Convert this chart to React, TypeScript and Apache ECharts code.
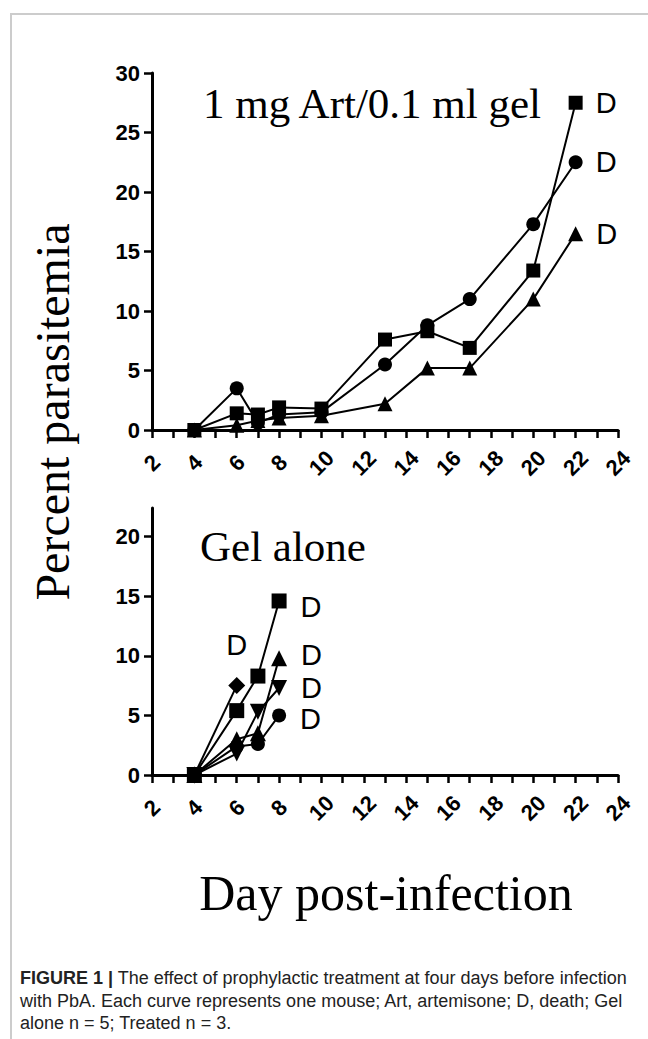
import React, { useEffect, useRef } from "react";
import * as echarts from "echarts";

// Treated: 1 mg Art/0.1 ml gel  [day, percent parasitemia]
const treatedSquare = [[4, 0], [6, 1.4], [7, 1.3], [8, 1.9], [10, 1.8], [13, 7.6], [15, 8.3], [17, 6.9], [20, 13.4], [22, 27.5]];
const treatedCircle = [[4, 0], [6, 3.5], [7, 0.6], [8, 1.3], [10, 1.5], [13, 5.5], [15, 8.8], [17, 11.0], [20, 17.3], [22, 22.5]];
const treatedTriangle = [[4, 0], [6, 0.4], [7, 0.8], [8, 1.0], [10, 1.2], [13, 2.2], [15, 5.2], [17, 5.2], [20, 11.0], [22, 16.5]];

// Gel alone
const gelSquare = [[4, 0], [6, 5.4], [7, 8.3], [8, 14.6]];
const gelDiamond = [[4, 0], [6, 7.5]];
const gelTriangle = [[4, 0], [6, 3.0], [7, 3.5], [8, 9.8]];
const gelInvTriangle = [[4, 0], [6, 1.8], [7, 5.3], [8, 7.3]];
const gelCircle = [[4, 0], [6, 2.4], [7, 2.6], [8, 5.0]];

const yTicksBottom = [0, 5, 10, 15, 20];

const SANS = "Liberation Sans, Arial, sans-serif";
const SERIF = "Liberation Serif, Times New Roman, serif";

function withDeath(data: number[][], position: string, distance: number, offset: number[] = [0, 0]) {
  return data.map((d, i) =>
    i === data.length - 1
      ? {
          value: d,
          label: {
            show: true,
            formatter: "D",
            position,
            distance,
            offset,
            color: "#000",
            fontFamily: SANS,
            fontSize: 29,
          },
        }
      : { value: d }
  );
}

function lineSeries(data: any[], symbol: string, size: number, axis: number, rotate = 0) {
  return {
    type: "line",
    xAxisIndex: axis,
    yAxisIndex: axis,
    data,
    symbol,
    symbolSize: size,
    symbolRotate: rotate,
    clip: false,
    lineStyle: { color: "#000", width: 2 },
    itemStyle: { color: "#000" },
    emphasis: { disabled: true },
    z: 3,
  };
}

function xAxisCfg(grid: number) {
  return {
    type: "value",
    gridIndex: grid,
    min: 2,
    max: 24,
    interval: 2,
    axisLine: { show: true, onZero: false, lineStyle: { color: "#000", width: 3 } },
    axisTick: { show: true, length: 8, lineStyle: { color: "#000", width: 2.5 } },
    minorTick: { show: true, splitNumber: 2, length: 8, lineStyle: { color: "#000", width: 2.5 } },
    splitLine: { show: false },
    minorSplitLine: { show: false },
    axisLabel: {
      rotate: 45,
      margin: 33,
      align: "center",
      verticalAlign: "middle",
      color: "#000",
      fontFamily: SANS,
      fontWeight: "bold",
      fontSize: 22,
    },
  };
}

function yAxisCfg(grid: number, max: number, custom?: number[]) {
  const cfg: any = {
    type: "value",
    gridIndex: grid,
    min: 0,
    max,
    interval: 5,
    axisLine: { show: true, lineStyle: { color: "#000", width: 3 } },
    axisTick: { show: true, length: 8, lineStyle: { color: "#000", width: 2.5 } },
    splitLine: { show: false },
    axisLabel: {
      margin: 12,
      color: "#000",
      fontFamily: SANS,
      fontWeight: "bold",
      fontSize: 22,
    },
  };
  if (custom) {
    cfg.axisTick.customValues = custom;
    cfg.axisLabel.customValues = custom;
  }
  return cfg;
}

export default function App() {
  const ref = useRef<HTMLDivElement>(null);
  useEffect(() => {
    if (!ref.current) return;
    const chart = echarts.init(ref.current, null, { renderer: "svg" });
    chart.setOption({
      animation: false,
      backgroundColor: "#fff",
      grid: [
        { left: 152, top: 73, width: 466, height: 357 },
        { left: 152, top: 508, width: 466, height: 267 },
      ],
      xAxis: [xAxisCfg(0), xAxisCfg(1)],
      yAxis: [yAxisCfg(0, 30), yAxisCfg(1, 22.4, yTicksBottom)],
      series: [
        lineSeries(withDeath(treatedSquare, "right", 13), "rect", 14, 0),
        lineSeries(withDeath(treatedCircle, "right", 13), "circle", 14, 0),
        lineSeries(withDeath(treatedTriangle, "right", 13), "triangle", 15, 0),
        lineSeries(withDeath(gelSquare, "right", 14, [0, 6]), "rect", 15, 1),
        lineSeries(withDeath(gelDiamond, "top", 18), "diamond", 17, 1),
        lineSeries(withDeath(gelTriangle, "right", 14, [0, -3]), "triangle", 16, 1),
        lineSeries(withDeath(gelInvTriangle, "right", 14, [0, 0]), "triangle", 16, 1, 180),
        lineSeries(withDeath(gelCircle, "right", 14, [0, 4]), "circle", 14, 1),
      ],
      graphic: [
        {
          type: "polyline",
          shape: { points: [[11, 1039], [11, 14], [648, 14]] },
          style: { stroke: "#cccccc", lineWidth: 2, fill: null },
        },
        {
          type: "text",
          x: 203,
          y: 103,
          style: { text: "1 mg Art/0.1 ml gel", fontFamily: SERIF, fontSize: 43, fill: "#000", align: "left", verticalAlign: "middle" },
        },
        {
          type: "text",
          x: 200,
          y: 546,
          style: { text: "Gel alone", fontFamily: SERIF, fontSize: 43, fill: "#000", align: "left", verticalAlign: "middle" },
        },
        {
          type: "text",
          x: 52,
          y: 412,
          rotation: Math.PI / 2,
          style: { text: "Percent parasitemia", fontFamily: SERIF, fontSize: 48, fill: "#000", align: "center", verticalAlign: "middle" },
        },
        {
          type: "text",
          x: 386,
          y: 893,
          style: { text: "Day post-infection", fontFamily: SERIF, fontSize: 50, fill: "#000", align: "center", verticalAlign: "middle" },
        },
        {
          type: "text",
          x: 20,
          y: 978,
          style: {
            text: "{b|FIGURE 1 |} The effect of prophylactic treatment at four days before infection",
            fontFamily: SANS,
            fontSize: 18,
            fill: "#222",
            verticalAlign: "middle",
            rich: { b: { fontWeight: "bold", fontFamily: SANS, fontSize: 18, fill: "#222" } },
          },
        },
        {
          type: "text",
          x: 20,
          y: 1001,
          style: { text: "with PbA. Each curve represents one mouse; Art, artemisone; D, death; Gel", fontFamily: SANS, fontSize: 18, fill: "#222", verticalAlign: "middle" },
        },
        {
          type: "text",
          x: 20,
          y: 1023,
          style: { text: "alone n = 5; Treated n = 3.", fontFamily: SANS, fontSize: 18, fill: "#222", verticalAlign: "middle" },
        },
      ],
    });
    return () => chart.dispose();
  }, []);
  return <div ref={ref} style={{ position: "absolute", left: 0, top: 0, width: 648, height: 1039 }} />;
}
